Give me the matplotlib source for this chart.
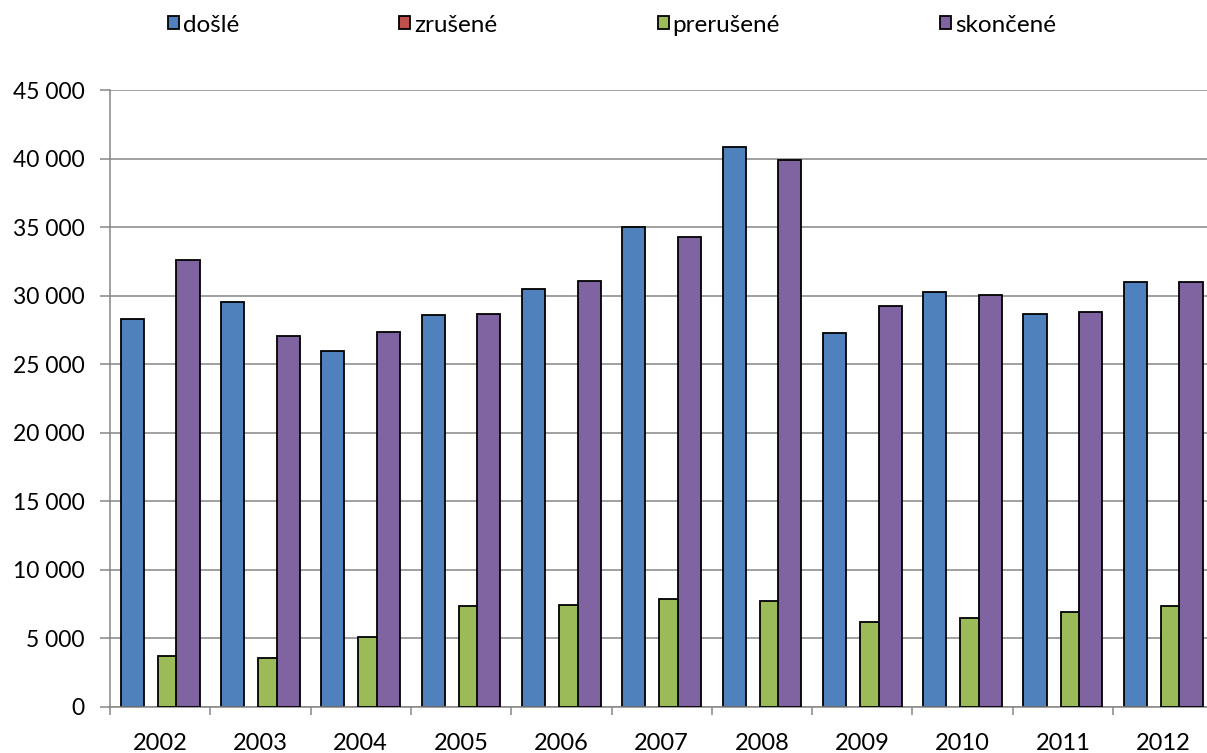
import numpy as np
import matplotlib.pyplot as plt
from matplotlib.patches import Patch
from matplotlib.ticker import FuncFormatter, MultipleLocator

years = ['2002', '2003', '2004', '2005', '2006', '2007', '2008', '2009', '2010', '2011', '2012']
dosle = [28320, 29540, 25990, 28640, 30480, 35030, 40880, 27320, 30260, 28700, 31040]
zrusene = [0, 0, 0, 0, 0, 0, 0, 0, 0, 0, 0]
prerusene = [3720, 3530, 5090, 7370, 7400, 7830, 7720, 6210, 6510, 6890, 7340]
skoncene = [32630, 27080, 27330, 28690, 31100, 34300, 39890, 29290, 30100, 28860, 31040]

series = [('došlé', dosle, '#4F81BD'),
          ('zrušené', zrusene, '#C0504D'),
          ('prerušené', prerusene, '#9BBB59'),
          ('skončené', skoncene, '#8064A2')]

plt.rcParams['font.family'] = ['Lato', 'DejaVu Sans']
fs = 16.5
lfs = 17.5

f = plt.figure(figsize=(12.07, 7.53), dpi=100)
ax = f.add_axes([110/1207, 46.3/753, 1103.3/1207, 616.2/753])

x = np.arange(len(years))
w = 0.23
step = 0.185
for i, (name, vals, col) in enumerate(series):
    off = (i - 1.5)*step
    edges = ['black' if v > 0 else 'none' for v in vals]
    ax.bar(x + off, vals, w, color=col, edgecolor=edges, linewidth=1.3, zorder=2+i)

ax.set_xlim(-0.5, len(years) - 0.5)
ax.set_ylim(0, 45000)
ax.yaxis.set_major_locator(MultipleLocator(5000))
ax.yaxis.set_major_formatter(FuncFormatter(lambda v, p: '{:,}'.format(int(v)).replace(',', ' ')))
ax.grid(axis='y', color='#868686', linewidth=1.1)
ax.set_axisbelow(True)

ax.set_xticks(x)
ax.set_xticklabels(years)
ax.set_xticks(np.arange(len(years) + 1) - 0.5, minor=True)
ax.tick_params(axis='x', which='major', length=0, pad=19, labelsize=17)
ax.tick_params(axis='x', which='minor', length=5.5, width=1.1, color='#868686')
ax.tick_params(axis='y', length=7.2, width=1.1, color='#868686', pad=11, labelsize=fs)

for s in ['top', 'right']:
    ax.spines[s].set_visible(False)
for s in ['left', 'bottom']:
    ax.spines[s].set_color('#868686')
    ax.spines[s].set_linewidth(1.1)

handles = [Patch(facecolor=c, edgecolor='black', linewidth=1.3, label=n) for n, v, c in series]
px = lfs*100/72
f.legend(handles=handles, loc='center', bbox_to_anchor=(612/1207, 1 - 25/753), ncol=4,
         frameon=False, fontsize=lfs, handlelength=11/px, handleheight=11/px,
         handletextpad=4/px, columnspacing=160/px, borderpad=0)

f.savefig('out.png', dpi=100)
plt.close()
